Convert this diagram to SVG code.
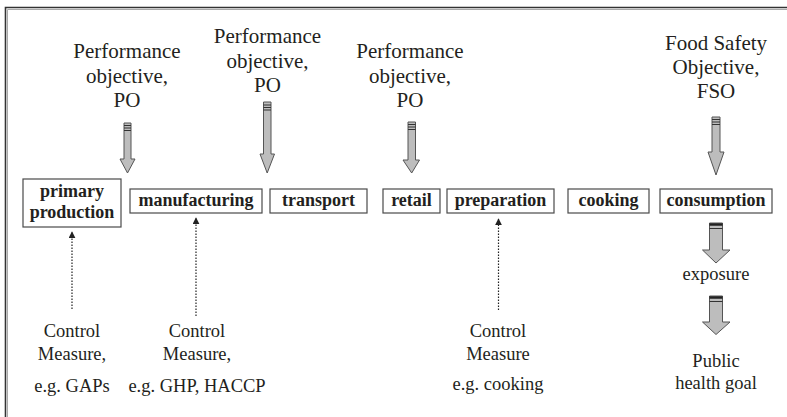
<svg xmlns="http://www.w3.org/2000/svg" width="787" height="417" viewBox="0 0 787 417">
<style>
.frame{fill:none;stroke:#333;stroke-width:1.6}
.box{fill:#fff;stroke:#4a4a4a;stroke-width:1.2}
text{font-family:'Liberation Serif','Times New Roman','DejaVu Serif',serif;fill:#231f20;text-anchor:middle}
.lbl{font-weight:bold;font-size:18px}
.txt{font-size:21px}
.ctl{font-size:18.5px}
.blk{fill:#bdbdbd;stroke:#555;stroke-width:1}
.cap{stroke:#333;stroke-width:1.2}
.dot{fill:none;stroke:#222;stroke-width:1.2;stroke-dasharray:1.5 1.5}
</style>
<defs>
<marker id="ah" viewBox="0 0 10 10" refX="9" refY="5" markerWidth="7" markerHeight="7" orient="auto" markerUnits="userSpaceOnUse">
<path d="M0,0 L10,5 L0,10 Z" fill="#222"/>
</marker>
</defs>
<rect width="787" height="417" fill="#fff"/>
<polyline class="frame" points="5.5,417 5.5,7.5 787,7.5"/>
<polyline fill="none" stroke="#aaa" stroke-width="1" points="7.5,417 7.5,9.5 787,9.5"/>

<g id="po1" font-family="Liberation Serif, serif">
<text class="txt" x="127" y="58">Performance</text>
<text class="txt" x="127" y="83">objective,</text>
<text class="txt" x="127" y="107">PO</text>
</g>
<g id="po2" font-family="Liberation Serif, serif">
<text class="txt" x="267.5" y="43">Performance</text>
<text class="txt" x="267.5" y="68">objective,</text>
<text class="txt" x="267.5" y="92">PO</text>
</g>
<g id="po3" font-family="Liberation Serif, serif">
<text class="txt" x="410" y="58">Performance</text>
<text class="txt" x="410" y="83">objective,</text>
<text class="txt" x="410" y="107">PO</text>
</g>
<g id="fso" font-family="Liberation Serif, serif">
<text class="txt" x="716" y="50">Food Safety</text>
<text class="txt" x="716" y="74">Objective,</text>
<text class="txt" x="716" y="98">FSO</text>
</g>

<g id="primary">
<rect class="box" x="23" y="179" width="98" height="48"/>
<text class="lbl" x="72" y="197">primary</text>
<text class="lbl" x="72" y="217.5">production</text>
</g>
<g id="manufacturing">
<rect class="box" x="130" y="189" width="132" height="24"/>
<text class="lbl" x="196" y="206">manufacturing</text>
</g>
<g id="transport">
<rect class="box" x="270" y="189" width="97" height="24"/>
<text class="lbl" x="318.5" y="206">transport</text>
</g>
<g id="retail">
<rect class="box" x="383" y="189" width="57" height="24"/>
<text class="lbl" x="411.5" y="206">retail</text>
</g>
<g id="preparation">
<rect class="box" x="447" y="189" width="107" height="24"/>
<text class="lbl" x="500.5" y="206">preparation</text>
</g>
<g id="cooking">
<rect class="box" x="568" y="189" width="81" height="24"/>
<text class="lbl" x="608.5" y="206">cooking</text>
</g>
<g id="consumption">
<rect class="box" x="660" y="189" width="112" height="24"/>
<text class="lbl" x="716" y="206">consumption</text>
</g>

<g id="cm1">
<text class="ctl" x="72" y="337">Control</text>
<text class="ctl" x="72" y="360">Measure,</text>
<text class="ctl" x="72" y="392">e.g. GAPs</text>
</g>
<g id="cm2">
<text class="ctl" x="197" y="337">Control</text>
<text class="ctl" x="197" y="360">Measure,</text>
<text class="ctl" x="197" y="392">e.g. GHP, HACCP</text>
</g>
<g id="cm3">
<text class="ctl" x="498" y="337">Control</text>
<text class="ctl" x="498" y="360">Measure</text>
<text class="ctl" x="498" y="390">e.g. cooking</text>
</g>
<g id="exposure">
<text class="ctl" x="716" y="280">exposure</text>
</g>
<g id="goal">
<text class="ctl" x="716" y="367">Public</text>
<text class="ctl" x="716" y="388.5">health goal</text>
</g>

<g id="connectors">
<path class="blk" d="M124,123 H131 V159 H135 L127.5,173 L120,159 H124 Z"/>
<path class="cap" d="M124,125.5 H131 M124,128 H131 M124,130.5 H131"/>
<path class="blk" d="M263.5,102 H271 V154 H274.5 L267.2,173 L260,154 H263.5 Z"/>
<path class="cap" d="M263.5,105 H271 M263.5,107.5 H271 M263.5,110 H271"/>
<path class="blk" d="M408,122 H415.5 V160 H419.5 L411.7,173 L403,160 H408 Z"/>
<path class="cap" d="M408,124.5 H415.5 M408,127 H415.5 M408,129.5 H415.5"/>
<path class="blk" d="M712,117 H720 V152 H724 L716,175 L708,152 H712 Z"/>
<path class="cap" d="M712,119.5 H720 M712,122 H720 M712,124.5 H720"/>
<path class="blk" d="M709.5,223 H722.5 V250 H730 L716,263 L702.5,250 H709.5 Z"/>
<path d="M709.5,224.5 H722.5" stroke="#222" stroke-width="2.5"/>
<path d="M709.5,228.5 H722.5" stroke="#333" stroke-width="1"/>
<path class="blk" d="M709.5,296 H722.5 V322 H730 L716,334.5 L702.5,322 H709.5 Z"/>
<path d="M709.5,297.5 H722.5" stroke="#222" stroke-width="2.5"/>
<path d="M709.5,301.5 H722.5" stroke="#333" stroke-width="1"/>
<line class="dot" x1="72" y1="309" x2="72" y2="232" marker-end="url(#ah)"/>
<line class="dot" x1="196" y1="316" x2="196" y2="218" marker-end="url(#ah)"/>
<line class="dot" x1="498.5" y1="310" x2="498.5" y2="219" marker-end="url(#ah)"/>
</g>
</svg>
